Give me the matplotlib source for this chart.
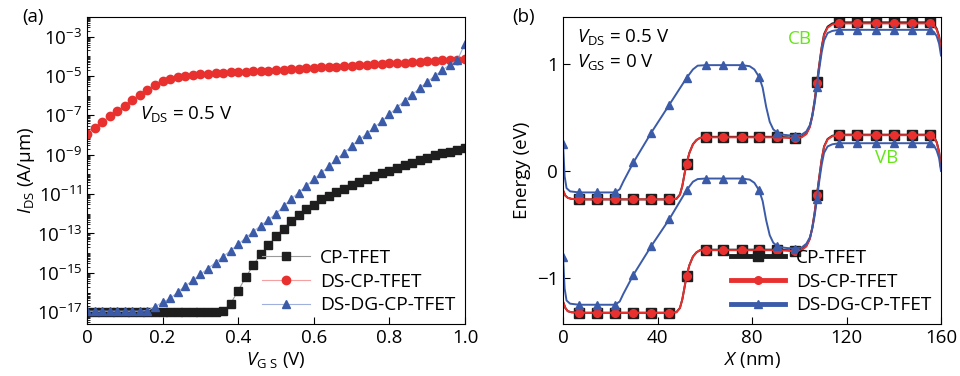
import numpy as np
import matplotlib
matplotlib.use('Agg')
import matplotlib.pyplot as plt
from matplotlib.ticker import FixedLocator, LogLocator, NullFormatter, FuncFormatter

plt.rcParams['font.family'] = ['Open Sans', 'DejaVu Sans']
plt.rcParams['mathtext.fontset'] = 'custom'
plt.rcParams['mathtext.rm'] = 'Open Sans'
plt.rcParams['mathtext.it'] = 'Open Sans:italic'
plt.rcParams['font.size'] = 13

# ---- panel (a): transfer curves, log10(I_DS) read at VGS = 0, 0.02, ..., 1.0
vgs = [0.00, 0.02, 0.04, 0.06, 0.08, 0.10, 0.12, 0.14, 0.16, 0.18,
       0.20, 0.22, 0.24, 0.26, 0.28, 0.30, 0.32, 0.34, 0.36, 0.38,
       0.40, 0.42, 0.44, 0.46, 0.48, 0.50, 0.52, 0.54, 0.56, 0.58,
       0.60, 0.62, 0.64, 0.66, 0.68, 0.70, 0.72, 0.74, 0.76, 0.78,
       0.80, 0.82, 0.84, 0.86, 0.88, 0.90, 0.92, 0.94, 0.96, 0.98, 1.00]

log_cp = [-16.98, -16.98, -16.98, -16.98, -16.98, -16.98, -16.98, -16.98, -16.98, -16.98,
          -16.98, -16.98, -16.98, -16.98, -16.98, -16.98, -16.98, -16.98, -16.95, -16.56,
          -15.90, -15.22, -14.61, -14.03, -13.60, -13.14, -12.75, -12.37, -12.07, -11.78,
          -11.53, -11.27, -11.10, -10.90, -10.73, -10.56, -10.39, -10.25, -10.08, -9.95,
          -9.83, -9.66, -9.53, -9.41, -9.27, -9.15, -9.03, -8.93, -8.85, -8.76, -8.68]

log_ds = [-7.95, -7.62, -7.36, -7.05, -6.80, -6.50, -6.20, -5.94, -5.69, -5.48,
          -5.27, -5.15, -5.06, -5.00, -4.95, -4.92, -4.89, -4.86, -4.84, -4.82,
          -4.80, -4.78, -4.76, -4.74, -4.72, -4.70, -4.68, -4.65, -4.63, -4.61,
          -4.58, -4.56, -4.54, -4.52, -4.50, -4.47, -4.45, -4.43, -4.41, -4.38,
          -4.36, -4.34, -4.32, -4.30, -4.28, -4.25, -4.23, -4.21, -4.19, -4.17, -4.15]

log_dg = [-16.95, -16.95, -16.95, -16.95, -16.95, -16.95, -16.95, -16.95, -16.92, -16.72,
          -16.50, -16.30, -15.98, -15.67, -15.38, -15.08, -14.78, -14.48, -14.18, -13.87,
          -13.55, -13.22, -12.90, -12.60, -12.30, -12.00, -11.62, -11.25, -10.92, -10.59,
          -10.25, -9.92, -9.58, -9.24, -8.90, -8.56, -8.22, -7.95, -7.60, -7.30,
          -6.95, -6.60, -6.25, -5.95, -5.62, -5.30, -5.00, -4.70, -4.42, -4.18, -3.35]

# ---- panel (b): band diagrams (X in nm, energy in eV)
x_cp = [0, 1, 2, 3.5, 6.8, 14.4, 22, 29.8, 37.4, 45, 48, 49.5, 50.5, 51.5, 52.3, 53.5,
        55, 56.5, 58, 60.4, 67.9, 75.6, 83, 90.6, 95, 98, 101, 103, 104.5, 105.5,
        106.5, 107.5, 108.5, 109.5, 110.5, 112, 114, 116.9, 124.6, 132.3, 140, 147.8,
        155.4, 157, 158.2, 159.2, 160]
mk_cp = [4, 5, 6, 7, 8, 9, 14, 19, 20, 21, 22, 23, 25, 31, 37, 38, 39, 40, 41, 42]

cb_cp = [-0.18, -0.23, -0.25, -0.26, -0.265, -0.265, -0.265, -0.265, -0.265, -0.265,
         -0.26, -0.22, -0.14, -0.02, 0.07, 0.17, 0.25, 0.29, 0.31, 0.32, 0.32, 0.32,
         0.32, 0.32, 0.315, 0.31, 0.32, 0.35, 0.42, 0.52, 0.66, 0.83, 1.00, 1.16, 1.28,
         1.35, 1.38, 1.39, 1.39, 1.39, 1.39, 1.39, 1.39, 1.37, 1.33, 1.26, 1.15]
vb_cp = [-1.22, -1.28, -1.31, -1.32, -1.325, -1.325, -1.325, -1.325, -1.325, -1.325,
         -1.32, -1.28, -1.20, -1.08, -0.98, -0.88, -0.80, -0.76, -0.74, -0.735, -0.735,
         -0.735, -0.735, -0.735, -0.74, -0.745, -0.735, -0.70, -0.63, -0.53, -0.39,
         -0.22, -0.05, 0.11, 0.23, 0.30, 0.33, 0.34, 0.34, 0.34, 0.34, 0.34, 0.34,
         0.32, 0.27, 0.18, 0.03]

cb_ds = [-0.18, -0.23, -0.25, -0.26, -0.265, -0.265, -0.265, -0.265, -0.265, -0.265,
         -0.26, -0.22, -0.14, -0.02, 0.07, 0.17, 0.25, 0.29, 0.31, 0.315, 0.315, 0.315,
         0.315, 0.315, 0.31, 0.305, 0.315, 0.345, 0.41, 0.51, 0.65, 0.82, 0.99, 1.15,
         1.27, 1.34, 1.37, 1.38, 1.38, 1.38, 1.38, 1.38, 1.38, 1.36, 1.32, 1.25, 1.14]
vb_ds = [-1.22, -1.28, -1.31, -1.32, -1.325, -1.325, -1.325, -1.325, -1.325, -1.325,
         -1.32, -1.28, -1.20, -1.08, -0.98, -0.88, -0.80, -0.76, -0.74, -0.74, -0.74,
         -0.74, -0.74, -0.74, -0.745, -0.75, -0.74, -0.705, -0.635, -0.535, -0.395,
         -0.225, -0.055, 0.105, 0.225, 0.295, 0.325, 0.335, 0.335, 0.335, 0.335, 0.335,
         0.335, 0.315, 0.265, 0.175, 0.025]

x_dg = [0, 0.7, 1.5, 3, 6.8, 14.4, 22, 24, 25.5, 29.8, 37.4, 45, 52.3, 55, 57, 60.4,
        67.9, 75.6, 79, 81, 83, 84.5, 86, 87.5, 89, 90.6, 93, 95, 98, 101, 103, 104.5,
        105.5, 106.5, 107.5, 108.5, 109.5, 110.5, 112, 114, 116.9, 124.6, 132.3, 140,
        147.8, 155.4, 157, 158.2, 159.2, 160]
mk_dg = [0, 4, 5, 6, 9, 10, 11, 12, 15, 16, 17, 20, 25, 28, 34, 40, 41, 42, 43, 44, 45]

cb_dg = [0.25, -0.05, -0.16, -0.19, -0.20, -0.20, -0.20, -0.17, -0.10, 0.08, 0.36,
         0.62, 0.87, 0.95, 0.985, 0.99, 0.99, 0.99, 0.98, 0.95, 0.88, 0.78, 0.60, 0.46,
         0.39, 0.36, 0.34, 0.335, 0.33, 0.34, 0.37, 0.43, 0.51, 0.63, 0.79, 0.96, 1.11,
         1.22, 1.29, 1.31, 1.32, 1.32, 1.32, 1.32, 1.32, 1.32, 1.30, 1.26, 1.19, 1.08]
vb_dg = [-0.80, -1.10, -1.21, -1.24, -1.25, -1.25, -1.25, -1.22, -1.15, -0.97, -0.70,
         -0.45, -0.18, -0.10, -0.075, -0.07, -0.07, -0.07, -0.08, -0.11, -0.18, -0.28,
         -0.46, -0.60, -0.67, -0.70, -0.715, -0.72, -0.725, -0.715, -0.68, -0.62, -0.54,
         -0.42, -0.26, -0.09, 0.06, 0.17, 0.23, 0.25, 0.26, 0.26, 0.26, 0.26, 0.26, 0.26,
         0.24, 0.19, 0.12, 0.00]

names = ['CP-TFET', 'DS-CP-TFET', 'DS-DG-CP-TFET']
black, red, blue = '#1e1e1e', '#e8302f', '#3b5ba9'

fig = plt.figure(figsize=(9.6, 3.76), dpi=100)
ax1 = fig.add_axes([87 / 960, 52 / 376, 378 / 960, 307 / 376])
ax2 = fig.add_axes([563 / 960, 52 / 376, 378 / 960, 307 / 376])

# (a)
v = np.array(vgs)
ax1.plot(v, 10.0 ** np.array(log_cp), color='#9a9a9a', lw=0.8, marker='s', ms=5.3,
         mfc=black, mec=black, label=names[0])
ax1.plot(v, 10.0 ** np.array(log_ds), color='#f4a0a0', lw=0.8, marker='o', ms=6,
         mfc=red, mec=red, label=names[1])
ax1.plot(v, 10.0 ** np.array(log_dg), color='#9fb0dd', lw=0.8, marker='^', ms=6.3,
         mfc=blue, mec=blue, label=names[2])
ax1.set_yscale('log')
ax1.set_xlim(0, 1.0)
ax1.set_ylim(10 ** -17.6, 1e-2)
ax1.yaxis.set_major_locator(FixedLocator([10.0 ** k for k in range(-17, -2, 2)]))
ax1.yaxis.set_minor_locator(LogLocator(base=10, subs=np.arange(1, 10), numticks=100))
ax1.yaxis.set_minor_formatter(NullFormatter())
ax1.yaxis.set_major_formatter(FuncFormatter(
    lambda y, p: r'$10^{%d}$' % int(round(np.log10(y)))))
ax1.set_xticks([0, 0.2, 0.4, 0.6, 0.8, 1.0])
ax1.set_xticklabels(['0', '0.2', '0.4', '0.6', '0.8', '1.0'])
ax1.tick_params(which='both', direction='in', right=False, top=False)
ax1.tick_params(which='major', length=5, labelsize=13.5)
ax1.tick_params(which='minor', length=2.5)
ax1.set_xlabel(r'$V_{\rm G\ S}$ (V)', fontsize=13.5, labelpad=2)
ax1.set_ylabel(r'$I_{\rm DS}$ (A/μm)', fontsize=13.5, labelpad=0)
ax1.text(0.14, 10 ** -7.2, r'$V_{\rm DS}$ = 0.5 V', fontsize=13.5)
leg1 = ax1.legend(loc='lower right', frameon=False, fontsize=13.8, handlelength=2.5,
                  borderaxespad=0.1, labelspacing=0.3, handletextpad=0.55)
fig.text(22 / 960, 1 - 17 / 376, '(a)', fontsize=13.5, va='center')

# (b)
for xs, cb, vb, mk, c, m, ms, lab in [
        (x_cp, cb_cp, vb_cp, mk_cp, black, 's', 6.5, names[0]),
        (x_cp, cb_ds, vb_ds, mk_cp, red, 'o', 5.5, names[1]),
        (x_dg, cb_dg, vb_dg, mk_dg, blue, '^', 6, names[2])]:
    ax2.plot(xs, cb, color=c, lw=1.4, marker=m, ms=ms, markevery=mk, label=lab)
    ax2.plot(xs, vb, color=c, lw=1.4, marker=m, ms=ms, markevery=mk)
ax2.set_xlim(0, 160)
ax2.set_ylim(-1.43, 1.44)
ax2.set_xticks([0, 40, 80, 120, 160])
ax2.set_yticks([-1, 0, 1])
ax2.set_yticklabels(['\u22121', '0', '1'])
ax2.tick_params(direction='in', length=5, labelsize=13.5)
ax2.set_xlabel(r'$X$ (nm)', fontsize=13.5, labelpad=2)
ax2.set_ylabel('Energy (eV)', fontsize=13.5, labelpad=4)
ax2.text(6, 1.25, r'$V_{\rm DS}$ = 0.5 V', fontsize=13.5, va='center')
ax2.text(6, 1.02, r'$V_{\rm GS}$ = 0 V', fontsize=13.5, va='center')
ax2.text(95, 1.23, 'CB', color='#66e61a', fontsize=13.5, va='center')
ax2.text(132, 0.12, 'VB', color='#66e61a', fontsize=13.5, va='center')
leg2 = ax2.legend(loc='lower right', frameon=False, fontsize=13.8, handlelength=2.8,
                  borderaxespad=0.1, labelspacing=0.3, handletextpad=0.6)
for h in leg2.legend_handles:
    h.set_linewidth(3.5)
fig.text(512 / 960, 1 - 17 / 376, '(b)', fontsize=13.5, va='center')

fig.savefig('out.png', dpi=100)
